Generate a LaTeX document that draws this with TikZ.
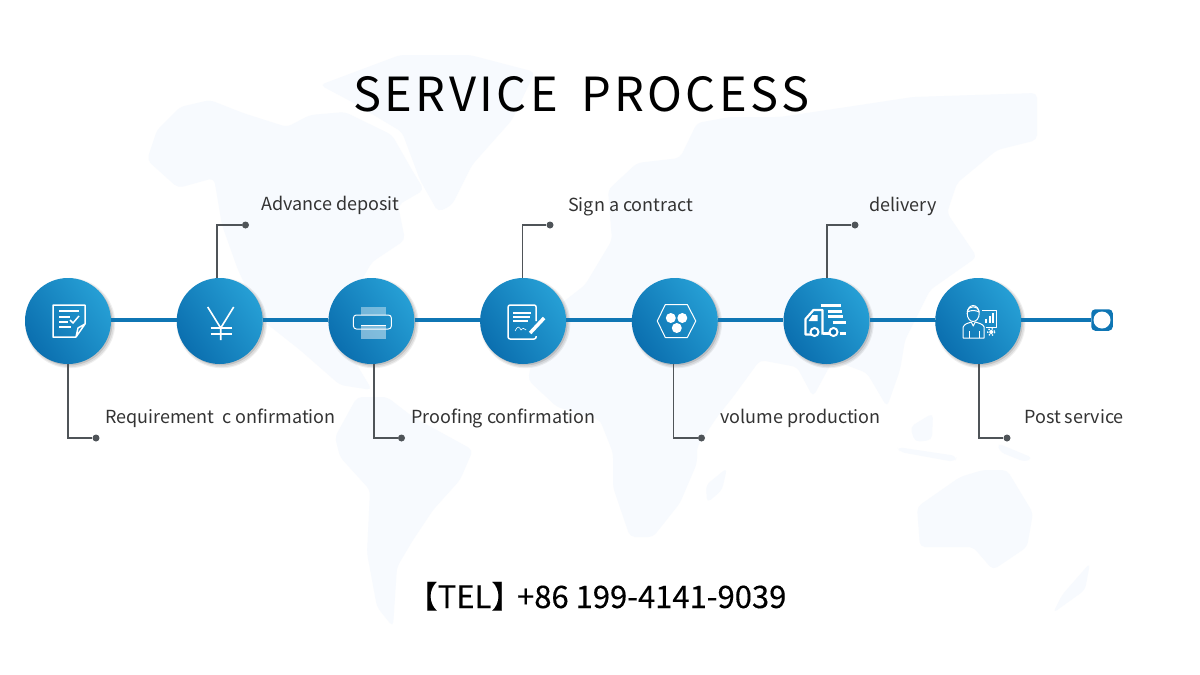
\documentclass[tikz,border=0pt]{standalone}
\usepackage{fontspec}
\setmainfont{Noto Sans CJK SC}
\newfontfamily\titlefont[LetterSpace=7.3]{Noto Sans CJK SC}
\newfontfamily\telfont[FakeBold=.25]{Noto Sans CJK SC}
\usepackage{xcolor}
\usepackage{tikz}
\usetikzlibrary{positioning,shadows}
\definecolor{landblue}{HTML}{F7FAFE}
\definecolor{discdark}{HTML}{0B6FAF}
\definecolor{disclight}{HTML}{269FD5}
\definecolor{spineblue}{HTML}{0F76B4}
\definecolor{leadgray}{HTML}{4F5458}
\definecolor{labelgray}{HTML}{333333}

\begin{document}
\begin{tikzpicture}[
  x=1pt,y=-1pt,
  node distance=65.3pt,
  land/.style={fill=landblue,draw=none,rounded corners=5pt},
  disc/.style={circle,minimum size=86pt,inner sep=0pt,left color=discdark,right color=disclight,shading angle=125,
    drop shadow={shadow xshift=2pt,shadow yshift=-2pt,opacity=.06,fill=black,shadow scale=1.05},
    drop shadow={shadow xshift=2pt,shadow yshift=-2pt,opacity=.08,fill=black,shadow scale=1.025},
    drop shadow={shadow xshift=1.5pt,shadow yshift=-1.5pt,opacity=.12,fill=black,shadow scale=1}},
  spine/.style={draw=spineblue,line width=4.5pt},
  lead/.style={draw=leadgray,line width=1.6pt},
  tip/.style={circle,fill=leadgray,inner sep=0pt,minimum size=7pt},
  lbl/.style={anchor=base west,inner sep=0pt,text=labelgray,font=\fontsize{18pt}{21pt}\selectfont},
  ico/.style={draw=white,line width=1.5pt,line join=round},
  bar/.style={draw=white,line width=2.4pt},
  thin ico/.style={draw=white,line width=1pt,line join=round}
]
\useasboundingbox[fill=white] (0,0) rectangle (1200,675);

% map behind everything
\fill[land] (147,160) -- (157,130) -- (180,107) -- (210,100) -- (243,113) -- (287,127) -- (310,115) -- (345,112) -- (392,135) -- (412,170) -- (424,190) -- (398,205) -- (405,240) -- (372,262) -- (350,300) -- (345,345) -- (372,390) -- (340,385) -- (300,350) -- (262,320) -- (238,270) -- (222,225) -- (214,178) -- (178,188) -- cycle;
\fill[land] (400,55) -- (470,55) -- (535,72) -- (512,120) -- (472,165) -- (452,205) -- (438,212) -- (420,180) -- (402,132) -- (352,102) -- (320,85) -- cycle;
\fill[land] (335,437) -- (357,397) -- (387,397) -- (413,417) -- (473,450) -- (460,480) -- (433,510) -- (413,540) -- (397,567) -- (393,627) -- (377,607) -- (367,553) -- (370,490) -- (340,457) -- cycle;
\fill[land] (528,380) -- (540,320) -- (585,285) -- (612,240) -- (608,190) -- (637,163) -- (680,158) -- (697,123) -- (730,117) -- (780,117) -- (847,107) -- (913,97) -- (1037,93) -- (1037,140) -- (997,150) -- (957,183) -- (947,213) -- (977,257) -- (930,290) -- (905,340) -- (900,370) -- (887,407) -- (867,373) -- (833,360) -- (813,397) -- (797,367) -- (760,360) -- (733,397) -- (717,417) -- (697,447) -- (697,463) -- (680,503) -- (653,537) -- (630,537) -- (613,487) -- (613,453) -- (600,420) -- (557,407) -- cycle;
\fill[land] (727,468) -- (722,490) -- (707,503) -- (706,485) -- cycle;
\fill[land] (917,507) -- (960,477) -- (983,470) -- (1007,470) -- (1033,513) -- (1027,547) -- (993,570) -- (973,547) -- (920,547) -- cycle;
\fill[land] (910,427) -- (933,413) -- (932,440) -- (915,442) -- cycle;
\fill[land] (897,447) -- (957,456) -- (955,462) -- (900,452) -- cycle;
\fill[land] (997,443) -- (1033,458) -- (1025,462) -- (1000,452) -- cycle;
\fill[land] (1090,563) -- (1085,590) -- (1053,613) -- (1062,595) -- cycle;

\node[disc] (s1) at (68,321) {};
\node[disc,right=of s1] (s2) {};
\node[disc,right=of s2] (s3) {};
\node[disc,right=of s3] (s4) {};
\node[disc,right=of s4] (s5) {};
\node[disc,right=of s5] (s6) {};
\node[disc,right=of s6] (s7) {};
\node[rectangle,rounded corners=4pt,fill=spineblue,minimum size=21.5pt,inner sep=0pt] (e) at (1102,320) {};
\node[circle,fill=white,minimum size=17pt,inner sep=0pt] (eh) at (e) {};

\foreach \a/\b in {s1/s2,s2/s3,s3/s4,s4/s5,s5/s6,s6/s7}
  \draw[spine] ([yshift=1pt]\a.east) -- ([yshift=1pt]\b.west);
\draw[spine] ([yshift=1pt]s7.east) -- (e.west);

\node[tip] (d1) at (96,438) {};
\node[tip] (d2) at (245.5,225) {};
\node[tip] (d3) at (401.5,438) {};
\node[tip] (d4) at (550,225) {};
\node[tip] (d5) at (701.5,438) {};
\node[tip] (d6) at (855,225) {};
\node[tip] (d7) at (1007,438) {};

\draw[lead] (s1.south) |- (d1);
\draw[lead] ([xshift=-2.5pt]s2.north) |- (d2);
\draw[lead] ([xshift=2.5pt]s3.south) |- (d3);
\draw[lead] ([xshift=-.8pt]s4.north) |- (d4);
\draw[lead] ([xshift=-1.5pt]s5.south) |- (d5);
\draw[lead] ([xshift=.5pt]s6.north) |- (d6);
\draw[lead] ([xshift=1pt]s7.south) |- (d7);

\node[lbl] (l1) at (105,423) {Requirement\ \ c onfirmation};
\node[lbl] (l2) at (261,210) {Advance deposit};
\node[lbl] (l3) at (411,423) {Proofing confirmation};
\node[lbl] (l4) at (568,211) {Sign a contract};
\node[lbl] (l5) at (720,423) {volume production};
\node[lbl] (l6) at (869,211) {delivery};
\node[lbl] (l7) at (1024,423) {Post service};

\node[anchor=base west,inner sep=0pt,font=\titlefont\fontsize{47pt}{50pt}\selectfont] (title) at (353,111) {SERVICE\ \hspace{9pt}PROCESS};
\node[anchor=base west,inner sep=0pt,font=\telfont\fontsize{31pt}{34pt}\selectfont] (tel) at (406.5,608) {【TEL】\kern-5.3pt+86 199-4141-9039};

% icons
\begin{scope}[shift={(s1.center)}]
\draw[ico] (8,16) -- (-15,16) -- (-15,-16) -- (17,-16) -- (17,3) -- (8,16) -- (10,7) -- (17,3);
\draw[bar] (-9,-10) -- (11,-10);
\draw[ico] (-9,-4) -- (2,-4) (-9,1) -- (0,1) (-9,6) -- (3,6);
\draw[ico] (2,-1) -- (5,2) -- (11,-5);
\end{scope}
\begin{scope}[shift={(s2.center)}]
\draw[ico,line width=1.6pt] (-12,-14) -- (1,7) -- (14,-14) (1,7) -- (1,19);
\draw[ico,line width=1.6pt] (-9,7) -- (12,7) (-9,13) -- (12,13);
\end{scope}
\begin{scope}[shift={(s3.center)}]
\fill[white,opacity=.4] (-10,-14) rectangle (14.5,-6);
\draw[ico,line width=1pt,rounded corners=3pt] (-18,-6) rectangle (20,8);
\fill[white,opacity=.45] (-10,4) rectangle (14.5,18);
\draw[ico,line width=1pt] (-10,4) -- (14.5,4);
\end{scope}
\begin{scope}[shift={(s4.center)}]
\draw[ico,rounded corners=2pt] (13,0) -- (13,-16) -- (-15,-16) -- (-15,18) -- (13,18) -- (13,15);
\draw[ico] (-10,-8) -- (8,-8) (-10,-4) -- (7,-4) (-10,0) -- (5,0);
\draw[thin ico,line width=.6pt] (-8,10) .. controls (-5,4) and (-4,6) .. (-2,9) .. controls (0,6) and (1,8) .. (3,9);
\draw[draw=white,line width=3.5pt] (7,12) -- (21,-3);
\end{scope}
\begin{scope}[shift={(s5.center)}]
\draw[thin ico] (-17.5,0) -- (-9.5,-16.5) -- (12.5,-16.5) -- (21,0) -- (12.5,16.5) -- (-9.5,16.5) -- cycle;
\fill[white] (-4,-3) circle (5) (7.5,-3) circle (5) (2,7) circle (5);
\end{scope}
\begin{scope}[shift={(s6.center)}]
\draw[draw=white,line width=2.2pt,line join=round] (-12,13.5) -- (-21,13.5) -- (-21,-2) -- (-13,-11) -- (-4,-11) -- (-4,13.5);
\fill[white] (-14,-6) -- (-9,-6) -- (-9,0) -- (-18,0) -- cycle;
\draw[bar,line width=3pt] (-6,-16) -- (14,-16) (1,-10) -- (15,-10) (1,-5) -- (16,-5) (6,1) -- (19,1) (13,12) -- (19,12);
\draw[bar] (-4,12.5) -- (3,12.5);
\draw[draw=white,fill=discdark,line width=2pt] (-12,11) circle (4);
\draw[draw=white,fill=discdark,line width=2pt] (7,11) circle (4);
\end{scope}
\begin{scope}[shift={(s7.center)}]
\draw[thin ico] (-5,-7.5) ellipse (6 and 8);
\draw[thin ico] (-11,-9) .. controls (-10,-16) and (0,-16) .. (1,-9) .. controls (-3,-11) and (-7,-11) .. (-11,-9);
\draw[thin ico] (-15,17) -- (-15,6) .. controls (-14,3) and (-10,2) .. (-7,1) -- (-5,5) -- (-3,1) .. controls (0,2) and (5,3) .. (6,6) -- (6,17) -- cycle;
\draw[thin ico] (-9,17) -- (-9,10) (1,17) -- (1,10);
\draw[thin ico] (4,-11) -- (18,-11) -- (18,6) -- (8,6);
\draw[draw=white,line width=1.6pt] (8,2) -- (8,-2) (11.5,2) -- (11.5,-5) (15,2) -- (15,-8);
\draw[draw=white,line width=1.3pt,dotted] (13,11) circle (3.5);
\fill[white] (13,11) circle (2);
\end{scope}
\end{tikzpicture}
\end{document}
